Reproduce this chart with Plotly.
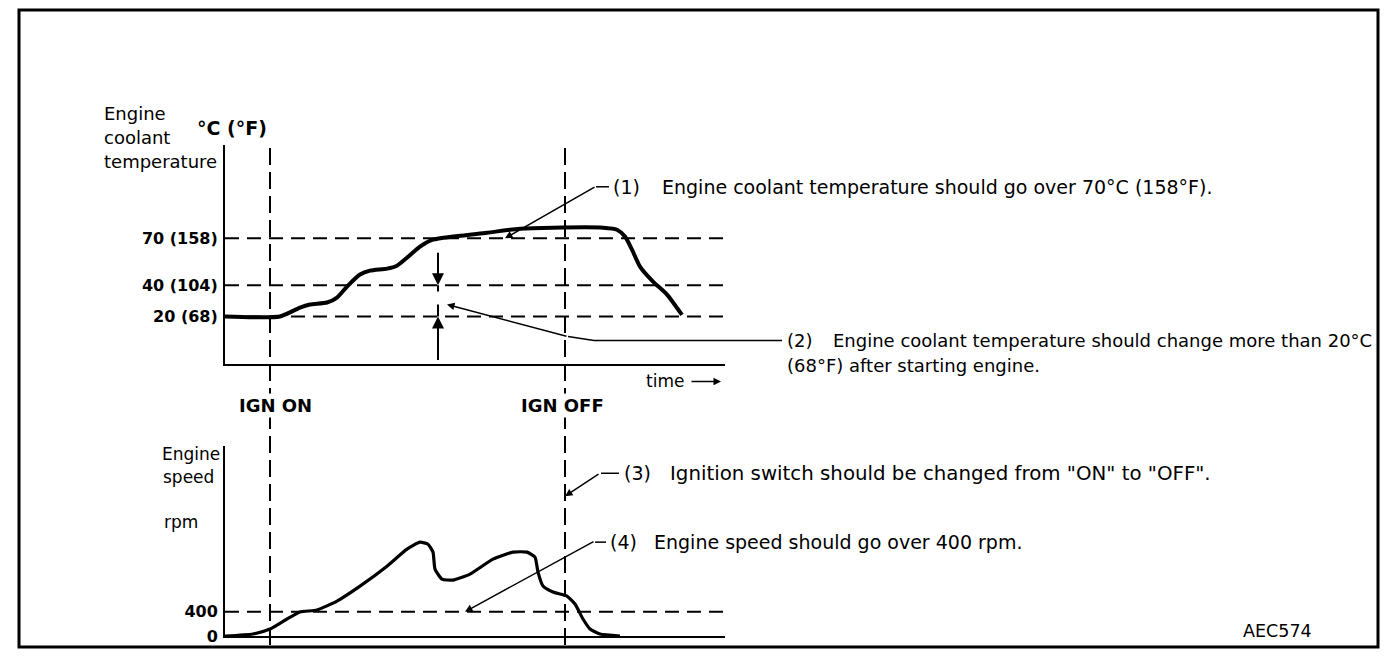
import plotly.graph_objects as go

# ---------------- data ----------------
# time axis in arbitrary units (0..100)
temp_time = [0, 11, 15, 17, 20.4, 22.4, 24.4, 27, 29, 32.4, 34.4, 36.4, 39, 41.6, 45.6,
             52.4, 59, 65.6, 75.6, 78.4, 80, 81.4, 83, 85.6, 88.4, 91.4]
temp_c = [20, 20, 25.7, 27.6, 28.9, 32.1, 39.1, 46.8, 49.3, 50.6, 52.5, 57.6, 64.7, 69.1, 71.1,
          73.6, 76.1, 76.8, 76.8, 75.5, 71.1, 62.7, 51.9, 42.3, 34.0, 21]

speed_time = [0, 5.6, 9, 12.4, 15, 18.4, 22.4, 27, 32.4, 36.4, 39, 40.6, 41.6, 42, 43.4, 45.6,
              49, 53.6, 57.6, 60.4, 62, 62.6, 63.6, 65.6, 68.4, 70, 71.6, 73, 75, 79]
speed_rpm = [0, 33, 115, 280, 395, 428, 576, 823, 1152, 1432, 1547, 1514, 1383, 1103, 938, 922,
             1021, 1267, 1383, 1383, 1300, 1053, 823, 724, 658, 527, 280, 115, 33, 0]

temp_ticks = [20, 40, 70]
temp_tick_text = ["20 (68)", "40 (104)", "70 (158)"]
speed_ticks = [0, 400]
speed_tick_text = ["0", "400"]

ign_on_time = 9
ign_off_time = 68

# ---------------- layout helpers ----------------
# screen position -> paper fraction (page offset 8px, slight vertical compression on capture)
W, H = 1384, 660
OFFX, OFFY, SY = 8, 7.9, 0.9866
def px(x):
    return (x - OFFX) / W
def py(y):
    return 1 - ((y - OFFY) / SY) / H

FONT = "DejaVu Sans"
BLACK = "black"

fig = go.Figure()
fig.add_trace(go.Scatter(x=temp_time, y=temp_c, mode="lines", xaxis="x", yaxis="y",
                         line=dict(color=BLACK, width=4, shape="spline", smoothing=0.6),
                         hoverinfo="skip"))
fig.add_trace(go.Scatter(x=speed_time, y=speed_rpm, mode="lines", xaxis="x2", yaxis="y2",
                         line=dict(color=BLACK, width=3.2, shape="spline", smoothing=0.5),
                         hoverinfo="skip"))

xdom = [px(225), px(725)]
axis_common = dict(showgrid=False, zeroline=False, showline=True, linecolor=BLACK,
                   linewidth=2, fixedrange=True)
fig.update_layout(
    width=W, height=H, margin=dict(l=0, r=0, t=0, b=0),
    paper_bgcolor="white", plot_bgcolor="white", showlegend=False,
    xaxis=dict(domain=xdom, range=[0, 100], anchor="y", showticklabels=False, ticks="",
               **axis_common),
    yaxis=dict(domain=[py(365), py(145)], range=[-10.73, 129.8], anchor="x",
               tickmode="array", tickvals=temp_ticks, ticktext=temp_tick_text, ticks="",
               ticklabelstandoff=2,
               tickfont=dict(family=FONT, size=16, color=BLACK, weight="bold"),
               **axis_common),
    xaxis2=dict(domain=xdom, range=[0, 100], anchor="y2", showticklabels=False, ticks="",
                **axis_common),
    yaxis2=dict(domain=[py(637), py(447)], range=[0, 3128], anchor="x2",
                tickmode="array", tickvals=speed_ticks, ticktext=speed_tick_text, ticks="",
                ticklabelstandoff=2,
                tickfont=dict(family=FONT, size=16, color=BLACK, weight="bold"),
                **axis_common),
)

shapes = []
HDASH = "14px,8px"
VDASH = "17px,7px"
for v in temp_ticks:
    shapes.append(dict(type="line", xref="x domain", yref="y", x0=0, x1=1, y0=v, y1=v,
                       line=dict(color=BLACK, width=2, dash=HDASH), layer="below"))
shapes.append(dict(type="line", xref="x2 domain", yref="y2", x0=0, x1=1, y0=400, y1=400,
                   line=dict(color=BLACK, width=2, dash=HDASH), layer="below"))
for t in (ign_on_time, ign_off_time):
    shapes.append(dict(type="line", xref="x", yref="paper", x0=t, x1=t, y0=py(646), y1=py(146),
                       line=dict(color=BLACK, width=2, dash=VDASH), layer="below"))
# double-arrow extensions
shapes.append(dict(type="line", xref="x", yref="y", x0=42.6, x1=42.6, y0=40, y1=35.9,
                   line=dict(color=BLACK, width=2)))
shapes.append(dict(type="line", xref="x", yref="y", x0=42.6, x1=42.6, y0=20, y1=27.7,
                   line=dict(color=BLACK, width=2)))
# leader segments (paper)
def seg(x0, y0, x1, y1, w=1.5):
    shapes.append(dict(type="line", xref="paper", yref="paper", x0=px(x0), y0=py(y0),
                       x1=px(x1), y1=py(y1), line=dict(color=BLACK, width=w)))
seg(596, 187, 609, 187)
seg(568, 337, 594, 341)
seg(594, 341, 782, 341)
seg(601, 474, 619, 474)
seg(595, 543, 606, 543)
# border
shapes.append(dict(type="rect", xref="paper", yref="paper", x0=px(19), x1=px(1378),
                   y0=py(648), y1=py(9.8), line=dict(color=BLACK, width=3)))
fig.update_layout(shapes=shapes)

ann = []
def text(x, y, s, size=17, anchor="left", weight="normal", bg=None):
    d = dict(xref="paper", yref="paper", x=px(x), y=py(y), text=s, showarrow=False,
             xanchor=anchor, yanchor="middle",
             font=dict(family=FONT, size=size, color=BLACK, weight=weight))
    if bg:
        d["bgcolor"] = bg
    ann.append(d)

def arrow(x, y, ax, ay, xref, yref, w=1.5, head=2, size=1.0):
    ann.append(dict(xref=xref, yref=yref, x=x, y=y, ax=ax, ay=ay, axref="pixel",
                    ayref="pixel", text="", showarrow=True, arrowhead=head,
                    arrowsize=size, arrowwidth=w, arrowcolor=BLACK, standoff=0))

# axis labels
text(102, 114, "Engine", size=18)
text(102, 138, "coolant", size=18)
text(102, 162, "temperature", size=18)
text(232, 128, "°C (°F)", size=19, anchor="center", weight="bold")
text(160, 455, "Engine")
text(161, 478, "speed")
text(181, 523, "rpm", anchor="center")
text(275, 406, "IGN ON", size=18, anchor="center", weight="bold", bg="white")
text(562, 406, "IGN OFF", size=18, anchor="center", weight="bold", bg="white")
text(644, 382, "time")
arrow(px(721), py(382), -31, 0, "paper", "paper", w=1.5, head=2)
text(1314, 632, "AEC574", size=17.5, anchor="right")

# callouts
text(611, 187, "(1)", size=19)
text(660, 187, "Engine coolant temperature should go over 70°C (158°F).", size=19)
text(785, 341, "(2)", size=18)
text(831, 341, "Engine coolant temperature should change more than 20°C", size=18)
text(785, 366, "(68°F) after starting engine.", size=18)
text(622, 474, "(3)", size=19)
text(668, 474, "Ignition switch should be changed from \"ON\" to \"OFF\".", size=19.8)
text(608, 543, "(4)", size=19)
text(652, 543, "Engine speed should go over 400 rpm.", size=19)

# callout arrows (tips on data)
arrow(56, 70, 91, -52, "x", "y")
arrow(44.4, 27.6, 121, 32, "x", "y")
arrow(ign_off_time, 2305, 35, -23, "x2", "y2")
arrow(48, 400, 130, -71, "x2", "y2")
# dimension arrows
arrow(42.6, 40, 0, -34, "x", "y", w=2, head=2, size=1.2)
arrow(42.6, 20, 0, 45, "x", "y", w=2, head=2, size=1.2)

fig.update_layout(annotations=ann)
fig.write_html("out.html")
